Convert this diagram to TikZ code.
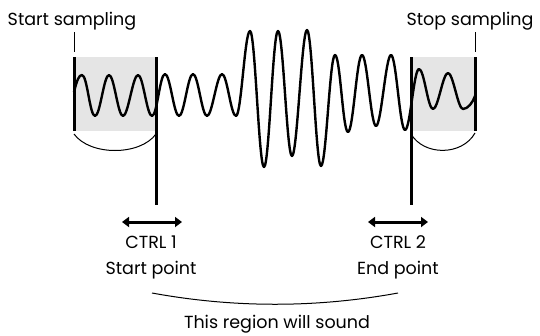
\documentclass[tikz,border=0pt]{standalone}
\usepackage{fontspec}
\setmainfont{Poppins}
\usetikzlibrary{arrows.meta}
\begin{document}
\begin{tikzpicture}[x=1pt,y=-1pt,
 lbl/.style={font=\fontsize{17.5}{20}\selectfont, inner sep=0pt, anchor=base},
 bar/.style={line width=3pt},
 thinline/.style={line width=1pt},
 wave/.style={line width=2.4pt, line join=round, line cap=round},
 shade/.style={fill=black!10},
 dbl/.style={line width=3pt, {Triangle[length=7pt,width=10pt]}-{Triangle[length=7pt,width=10pt]}}]
\useasboundingbox (0,0) rectangle (540,335);
% shaded regions
\fill[shade] (74,57) rectangle (156,131);
\fill[shade] (411,57) rectangle (475,131);
% coordinates
\coordinate (lbt) at (74,57); \coordinate (lbb) at (74,131);
\coordinate (spt) at (156,57); \coordinate (spb) at (156,205);
\coordinate (ept) at (411,57); \coordinate (epb) at (411,205);
\coordinate (rbt) at (475,57); \coordinate (rbb) at (475,131);
% arcs
\draw[thinline] (74,134) .. controls (90,156) and (140,156) .. (156,134);
\draw[thinline] (411,134) .. controls (424,156) and (462,156) .. (475,133);
% wave
\draw[wave] (74,92) .. controls (77,80) and (79,75) .. (82,75)
 \foreach \x/\y in {95/116,109/75,123/116,138/75,152/116,165/74,179/116,193/74,207/116,222/74,236/116,250/31,264/167,278/31,292/156,307/30,321/166,335/55,348/132,362/55,376/126,391/55,405/130,419/69,433/109,448/73,463/109}
 { .. controls +(5.2,0) and +(-5.2,0) .. (\x,\y) }
 .. controls +(5,0) and +(-2,6) .. (475,96);
% bars
\draw[bar] (lbt) -- (lbb);
\draw[bar] (spt) -- (spb);
\draw[bar] (ept) -- (epb);
\draw[bar] (rbt) -- (rbb);
% labels
\node[lbl] (ss) at (72,25) {Start sampling};
\node[lbl] (st) at (470,25) {Stop sampling};
\draw[thinline] (74,32) -- (74,52);
\draw[thinline] (475,32) -- (475,52);
\node[lbl] (c1) at (151,248) {CTRL 1};
\node[lbl] (sp) at (151,274) {Start point};
\node[lbl] (c2) at (398,248) {CTRL 2};
\node[lbl] (ep) at (398,274) {End point};
\node[lbl] (rg) at (277,328) {This region will sound};
% arrows
\coordinate (a1l) at (122,222); \coordinate (a1r) at (182,222);
\coordinate (a2l) at (368,222); \coordinate (a2r) at (428,222);
\draw[dbl] (a1l) -- (a1r);
\draw[dbl] (a2l) -- (a2r);
% bottom arc
\coordinate (bl) at (152,293); \coordinate (br) at (398,293);
\draw[thinline] (bl) .. controls (234,308) and (316,308) .. (br);
\end{tikzpicture}
\end{document}
